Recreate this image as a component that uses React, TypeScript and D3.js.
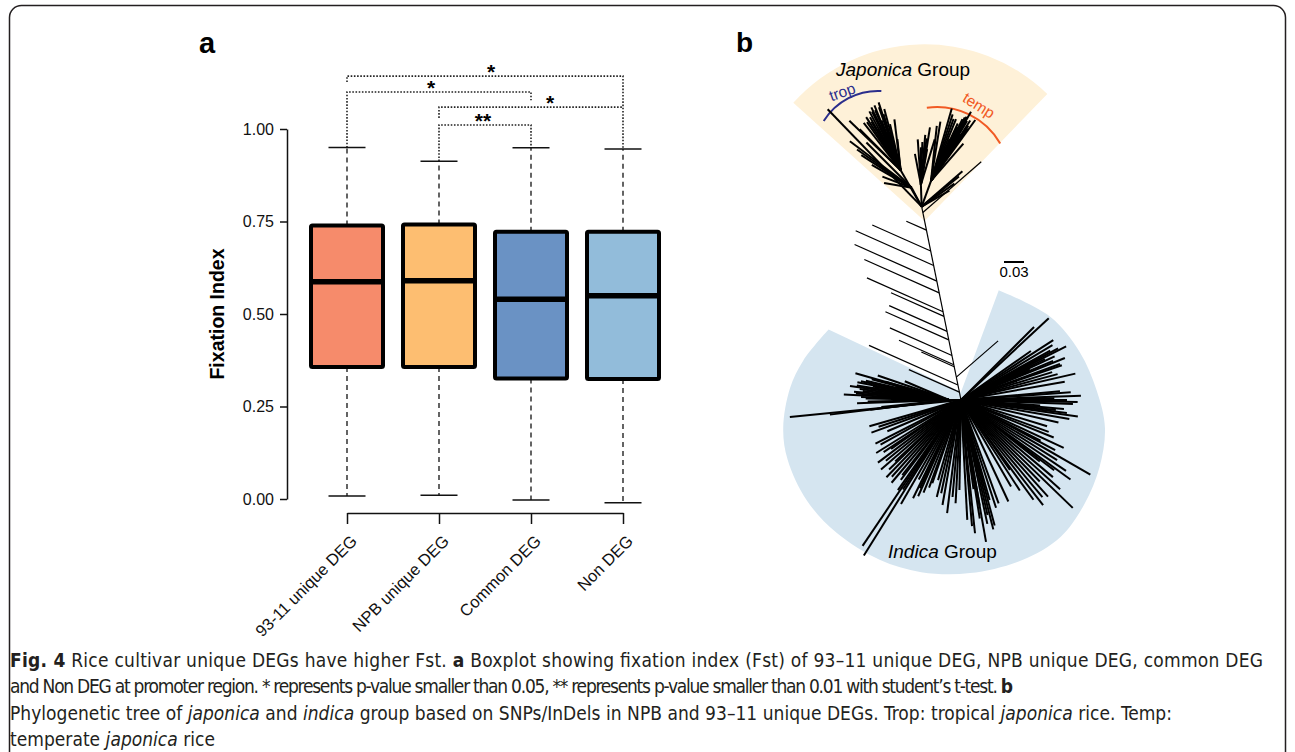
import React, { useEffect, useRef } from 'react';
import * as d3 from 'd3';

const W = 1295;
const H = 752;

// ---- panel a : boxplot of fixation index ----
const categories = ['93-11 unique DEG', 'NPB unique DEG', 'Common DEG', 'Non DEG'];
const whiskerLow = [0.008, 0.01, -0.003, -0.01];
const q1 = [0.357, 0.357, 0.326, 0.324];
const medians = [0.587, 0.59, 0.54, 0.549];
const q3 = [0.739, 0.742, 0.722, 0.722];
const whiskerHigh = [0.95, 0.913, 0.949, 0.946];
const boxColors = ['#f68b6b', '#fdbe71', '#6a92c4', '#92bcda'];
const yTicks = [0, 0.25, 0.5, 0.75, 1];

// significance brackets (category index pairs, bracket level in y units)
const sigFrom = [0, 0, 1, 1];
const sigTo = [3, 2, 3, 2];
const sigLevel = [1.143, 1.1, 1.059, 1.011];
const sigLabel = ['*', '*', '*', '**'];
const sigFromEnd: (number | null)[] = [1.127, null, 1.03, null];
const sigToEnd: (number | null)[] = [null, 1.078, 1.059, null];
const sigLabelShift = [6, -8, 19, -2];

// ---- panel b : unrooted tree, [heading in degrees, branch length] ----
const trunkHeading = -11.5;
const trunkLength = 0.296;
const trunkLeftHeading = -66;
const trunkLeftPos = [0.228, 0.26, 0.206, 0.182, 0.164, 0.135, 0.128, 0.105, 0.092, 0.068, 0.054, 0.051, 0.023, 0.012];
const trunkLeftLen = [0.096, 0.033, 0.128, 0.135, 0.123, 0.125, 0.087, 0.095, 0.104, 0.102, 0.09, 0.054, 0.146, 0.083];
const trunkRightHeading = 49;
const trunkRightPos = [0.287, 0.035];
const trunkRightLen = [0.116, 0.083];

const tropLeaves: [number, number][] = [
  [-18, 0.107], [-25, 0.104], [-28, 0.1], [-33, 0.095], [-15, 0.095], [-13, 0.071], [-21, 0.08], [-29, 0.071],
  [-45, 0.087], [-46, 0.107], [-7, 0.077], [-6, 0.047], [-25, 0.093], [-38, 0.09], [-20, 0.06], [-31, 0.085],
  [-23, 0.098], [-17, 0.088], [-19, 0.1], [-22, 0.105], [-26, 0.098], [-30, 0.092], [-35, 0.088],
];
const tropLong: [number, number][] = [[-44, 0.203]];
const lowTropLeaves: [number, number][] = [[-53, 0.116], [-45, 0.096], [-69, 0.047], [-80, 0.042], [-60, 0.069], [-57, 0.09], [-55, 0.1]];
const midLeaves: [number, number][] = [[0, 0.056], [5, 0.075], [9, 0.087], [-4, 0.068], [10, 0.054], [17, 0.071], [5, 0.038], [-11, 0.047], [2, 0.064], [7, 0.07]];
const tempLeaves: [number, number][] = [
  [16, 0.113], [27, 0.104], [28, 0.108], [33, 0.108], [36, 0.113], [25, 0.095], [35, 0.096], [32, 0.083],
  [24, 0.069], [41, 0.074], [24, 0.053], [9, 0.09], [6, 0.083], [30, 0.12], [20, 0.099],
  [29, 0.11], [31, 0.105], [34, 0.1], [26, 0.09], [22, 0.1], [18, 0.105],
];
const japRightLeaves: [number, number][] = [[49, 0.081], [51, 0.072], [55, 0.06], [60, 0.048]];
const japonicaStems: [number, number][] = [[-30, 0.063], [0, 0], [-28, 0.032], [-2, 0.033], [20, 0.041], [0, 0]];
const japonicaClades = [tropLeaves, tropLong, lowTropLeaves, midLeaves, tempLeaves, japRightLeaves];

const indicaLeftLeaves: [number, number][] = [
  [-74, 0.146], [-79, 0.14], [-85, 0.143], [-88, 0.132], [-91, 0.122], [-80, 0.116], [-85, 0.105], [-74, 0.099],
  [-76, 0.083], [-67, 0.072], [-96, 0.102], [-97, 0.119], [-97, 0.18], [-82, 0.15], [-77, 0.128], [-87, 0.158],
  [-71, 0.113], [-83, 0.135], [-92, 0.138], [-78, 0.135], [-81, 0.14], [-84, 0.13], [-86, 0.14], [-89, 0.125],
  [-75, 0.12],
];
const indicaLongLeft: [number, number][] = [[-95.7, 0.258]];
const indicaLowerLeft: [number, number][] = [
  [-106, 0.143], [-110, 0.143], [-117, 0.144], [-122, 0.15], [-127, 0.156], [-131, 0.159], [-136, 0.161],
  [-140, 0.162], [-145, 0.165], [-146, 0.264], [-148, 0.275], [-150, 0.18], [-154, 0.164], [-155, 0.146],
  [-158, 0.15], [-161, 0.132], [-164, 0.125], [-168, 0.143], [-173, 0.171], [-175, 0.146], [-179, 0.135],
  [-113, 0.12], [-125, 0.128], [-133, 0.135], [-142, 0.143], [-152, 0.135], [-108, 0.13], [-119, 0.138],
  [-124, 0.14], [-129, 0.145], [-134, 0.15], [-138, 0.155], [-143, 0.15], [-147, 0.16], [-156, 0.158],
  [-160, 0.14], [-166, 0.15], [-170, 0.16], [-177, 0.155],
];
const indicaBottom: [number, number][] = [
  [174, 0.201], [170, 0.216], [165, 0.195], [170, 0.161], [164, 0.156], [177, 0.18], [160, 0.165], [155, 0.168],
  [172, 0.135], [167, 0.177], [168, 0.19], [171, 0.18], [175, 0.19], [162, 0.17], [166, 0.2],
];
const indicaRightLower: [number, number][] = [
  [144, 0.185], [130, 0.18], [134, 0.233], [115, 0.17], [120, 0.224], [107, 0.135], [122, 0.17], [147, 0.162],
  [145, 0.128], [117, 0.134], [138, 0.195], [126, 0.203], [150, 0.15], [112, 0.15], [128, 0.15],
  [118, 0.16], [124, 0.19], [132, 0.2], [136, 0.17], [140, 0.19], [142, 0.2], [127, 0.175], [110, 0.14],
];
const indicaRight: [number, number][] = [
  [90, 0.159], [85, 0.149], [96, 0.143], [94, 0.119], [100, 0.165], [88, 0.18], [98, 0.177], [92, 0.168], [103, 0.15],
  [86, 0.165], [89, 0.14], [95, 0.155], [97, 0.16], [91, 0.175],
];
const indicaUpperRight: [number, number][] = [
  [77, 0.176], [70, 0.158], [61, 0.153], [64, 0.14], [66, 0.113], [47, 0.18], [45, 0.155], [57, 0.165],
  [68, 0.168], [73, 0.143], [55, 0.128], [63, 0.177], [80, 0.158], [59, 0.16], [62, 0.165], [65, 0.155],
  [67, 0.15], [71, 0.16], [75, 0.15],
];
const indicaStems: [number, number][] = [[-90, 0.018], [0, 0], [0, 0], [0, 0], [0, 0], [0, 0], [0, 0]];
const indicaClades = [indicaLeftLeaves, indicaLongLeft, indicaLowerLeft, indicaBottom, indicaRightLower, indicaRight, indicaUpperRight];

// shaded group outlines
const japonicaFan = { at: 0.274, radius: 0.265, from: -48, to: 44 };
const indicaOutline: [number, number][] = [
  [19, 0.174], [47, 0.183], [68, 0.192], [86, 0.204], [101, 0.22], [116, 0.231], [130, 0.242], [144, 0.254],
  [159, 0.257], [177, 0.26], [193, 0.265], [207, 0.269], [223, 0.273], [237, 0.276], [251, 0.275], [261, 0.27],
  [274, 0.257], [284, 0.244], [298, 0.225],
];

const captionLines = [
  [['b', 'Fig. 4'], ['n', ' Rice cultivar unique DEGs have higher Fst. '], ['b', 'a'], ['n', ' Boxplot showing fixation index (Fst) of 93–11 unique DEG, NPB unique DEG, common DEG']],
  [['n', 'and Non DEG at promoter region. * represents p-value smaller than 0.05, ** represents p-value smaller than 0.01 with student’s t-test. '], ['b', 'b']],
  [['n', 'Phylogenetic tree of '], ['i', 'japonica'], ['n', ' and '], ['i', 'indica'], ['n', ' group based on SNPs/InDels in NPB and 93–11 unique DEGs. Trop: tropical '], ['i', 'japonica'], ['n', ' rice. Temp:']],
  [['n', 'temperate '], ['i', 'japonica'], ['n', ' rice']],
];
const captionWidths = [1253, 1003, 1162, 205];

const FONT = "'Liberation Sans', Arial, Helvetica, sans-serif";
const CAPTION_FONT = "'Liberation Sans Narrow', 'DejaVu Sans Condensed', 'Liberation Sans', sans-serif";

const lenScale = d3.scaleLinear().domain([0, 0.03]).range([0, 20]);
const INDICA_HUB: [number, number] = [961, 400];

function polar(p: [number, number], heading: number, len: number): [number, number] {
  const r = lenScale(len);
  const a = (heading * Math.PI) / 180;
  return [p[0] + r * Math.sin(a), p[1] - r * Math.cos(a)];
}

function buildTree() {
  const thin: [number, number][][] = [];
  const leaves: [number, number][][] = [];
  const japHub = polar(INDICA_HUB, trunkHeading, trunkLength);
  thin.push([INDICA_HUB, japHub]);
  trunkLeftPos.forEach((p, i) => {
    const b = polar(INDICA_HUB, trunkHeading, p);
    thin.push([b, polar(b, trunkLeftHeading, trunkLeftLen[i])]);
  });
  trunkRightPos.forEach((p, i) => {
    const b = polar(INDICA_HUB, trunkHeading, p);
    thin.push([b, polar(b, trunkRightHeading, trunkRightLen[i])]);
  });
  const addClades = (hub: [number, number], stems: [number, number][], clades: [number, number][][]) => {
    clades.forEach((cl, k) => {
      const node = polar(hub, stems[k][0], stems[k][1]);
      if (stems[k][1] > 0) leaves.push([hub, node]);
      cl.forEach(([h, l]) => leaves.push([node, polar(node, h, l)]));
    });
  };
  addClades(japHub, japonicaStems, japonicaClades);
  addClades(INDICA_HUB, indicaStems, indicaClades);
  return { thin, leaves };
}

function arcPath(c: [number, number], r: number, h0: number, h1: number) {
  const a = polar(c, h0, lenScale.invert(r));
  const b = polar(c, h1, lenScale.invert(r));
  return `M${a[0]},${a[1]}A${r},${r} 0 0 1 ${b[0]},${b[1]}`;
}

export default function App() {
  const yAxisRef = useRef<SVGGElement>(null);
  const xAxisRef = useRef<SVGGElement>(null);

  const y = d3.scaleLinear().domain([0, 1]).range([499, 129]);
  const x = d3.scalePoint<string>().domain(categories).range([347, 623]);
  const boxW = 72;
  const capW = 37;

  useEffect(() => {
    const ya = d3.select(yAxisRef.current!);
    ya.call(d3.axisLeft(y).tickValues(yTicks).tickFormat(d3.format('.2f')).tickSize(7).tickPadding(6).tickSizeOuter(0));
    ya.attr('font-size', null).attr('font-family', null);
    ya.selectAll('text').attr('font-size', 16).attr('fill', '#111').attr('font-family', FONT);
    ya.selectAll('line,path').attr('stroke', '#111').attr('stroke-width', 1.5);

    const xa = d3.select(xAxisRef.current!);
    xa.call(d3.axisBottom(x).tickSize(11).tickSizeOuter(0).tickFormat(() => ''));
    xa.selectAll('line,path').attr('stroke', '#111').attr('stroke-width', 1.5);
  }, []);

  const tree = buildTree();
  const fanCenter = polar(INDICA_HUB, trunkHeading, japonicaFan.at);
  const fanPath = d3.arc()({
    innerRadius: 0,
    outerRadius: lenScale(japonicaFan.radius),
    startAngle: (japonicaFan.from * Math.PI) / 180,
    endAngle: (japonicaFan.to * Math.PI) / 180,
  } as any) as string;
  const outlinePts = indicaOutline.map(([h, l]) => polar(INDICA_HUB, h, l));
  const apex = polar(INDICA_HUB, 0, 0.012);
  const outlineCurve = d3.line().curve(d3.curveCatmullRom)(outlinePts) as string;
  const indicaPath = `M${apex[0]},${apex[1]}L` + outlineCurve.slice(1) + 'Z';

  return (
    <svg width={W} height={H} style={{ position: 'absolute', left: 0, top: 0, display: 'block', background: '#fff' }}>
      <rect x={9.5} y={5.5} width={1276} height={800} rx={12} fill="none" stroke="#231f20" strokeWidth={1.5} />

      {/* panel a */}
      <text x={199} y={53} fontFamily={FONT} fontWeight="bold" fontSize={29}>a</text>
      <g ref={yAxisRef} transform="translate(287,0)" />
      <g ref={xAxisRef} transform="translate(0,513)" />
      <text transform="translate(224,314) rotate(-90)" textAnchor="middle" fontFamily={FONT} fontWeight="bold" fontSize={19.5}>Fixation Index</text>
      {categories.map((c) => (
        <text key={c} transform={`translate(${x(c)! + 7},538) rotate(-45)`} textAnchor="end" dy="0.35em" fontFamily={FONT} fontSize={16.5} fill="#111">{c}</text>
      ))}

      {sigFrom.map((f, k) => {
        const xa = x(categories[f])!;
        const xb = x(categories[sigTo[k]])!;
        const yl = y(sigLevel[k]);
        const ya = y(sigFromEnd[k] ?? whiskerHigh[f]);
        const yb = y(sigToEnd[k] ?? whiskerHigh[sigTo[k]]);
        return (
          <g key={k}>
            <path d={`M${xa},${ya}V${yl}H${xb}V${yb}`} fill="none" stroke="#222" strokeWidth={1.6} strokeDasharray="1.6,1.6" />
            <text x={(xa + xb) / 2 + sigLabelShift[k]} y={yl + 3} textAnchor="middle" fontFamily={FONT} fontWeight="bold" fontSize={21}>{sigLabel[k]}</text>
          </g>
        );
      })}

      {categories.map((c, i) => {
        const cx = x(c)!;
        return (
          <g key={c}>
            <line x1={cx} x2={cx} y1={y(q3[i])} y2={y(whiskerHigh[i])} stroke="#111" strokeWidth={1.3} strokeDasharray="5,4" />
            <line x1={cx} x2={cx} y1={y(q1[i])} y2={y(whiskerLow[i])} stroke="#111" strokeWidth={1.3} strokeDasharray="5,4" />
            <line x1={cx - capW / 2} x2={cx + capW / 2} y1={y(whiskerHigh[i])} y2={y(whiskerHigh[i])} stroke="#111" strokeWidth={1.5} />
            <line x1={cx - capW / 2} x2={cx + capW / 2} y1={y(whiskerLow[i])} y2={y(whiskerLow[i])} stroke="#111" strokeWidth={1.5} />
            <rect x={cx - boxW / 2} y={y(q3[i])} width={boxW} height={y(q1[i]) - y(q3[i])} fill={boxColors[i]} stroke="#000" strokeWidth={4} rx={1.5} />
            <line x1={cx - boxW / 2} x2={cx + boxW / 2} y1={y(medians[i])} y2={y(medians[i])} stroke="#000" strokeWidth={5.5} />
          </g>
        );
      })}

      {/* panel b */}
      <text x={736} y={52} fontFamily={FONT} fontWeight="bold" fontSize={28}>b</text>
      <path d={fanPath} transform={`translate(${fanCenter[0]},${fanCenter[1]})`} fill="#fef1d8" />
      <path d={indicaPath} fill="#d5e5f0" />
      <path d={arcPath([878, 155], 64, -58, 3)} fill="none" stroke="#2b2e8c" strokeWidth={2} />
      <path d={arcPath([937, 180], 73, -8, 60)} fill="none" stroke="#f15a24" strokeWidth={2} />
      <text transform="translate(844,97) rotate(-20)" textAnchor="middle" fontFamily={FONT} fontSize={15.5} fill="#2b2e8c">trop</text>
      <text transform="translate(976,110) rotate(32)" textAnchor="middle" fontFamily={FONT} fontSize={15.5} fill="#f15a24">temp</text>
      <text x={836} y={76} fontFamily={FONT} fontSize={19}>
        <tspan fontStyle="italic">Japonica</tspan> Group
      </text>
      <text x={888} y={558} fontFamily={FONT} fontSize={19}>
        <tspan fontStyle="italic">Indica</tspan> Group
      </text>
      {tree.thin.map((s, i) => (
        <line key={'t' + i} x1={s[0][0]} y1={s[0][1]} x2={s[1][0]} y2={s[1][1]} stroke="#000" strokeWidth={1.2} />
      ))}
      {tree.leaves.map((s, i) => (
        <line key={'l' + i} x1={s[0][0]} y1={s[0][1]} x2={s[1][0]} y2={s[1][1]} stroke="#000" strokeWidth={2} />
      ))}
      <line x1={1004} x2={1004 + lenScale(0.03)} y1={262} y2={262} stroke="#000" strokeWidth={2} />
      <text x={1004 + lenScale(0.03) / 2} y={277} textAnchor="middle" fontFamily={FONT} fontSize={15}>0.03</text>

      {/* caption */}
      {captionLines.map((line, i) => (
        <text key={i} x={10} y={667 + i * 26.3} fontFamily={CAPTION_FONT} fontSize={19} fill="#231f20" textLength={captionWidths[i]} lengthAdjust="spacing">
          {line.map(([st, t], j) => (
            <tspan key={j} fontWeight={st === 'b' ? 'bold' : 'normal'} fontStyle={st === 'i' ? 'italic' : 'normal'}>{t}</tspan>
          ))}
        </text>
      ))}
    </svg>
  );
}
